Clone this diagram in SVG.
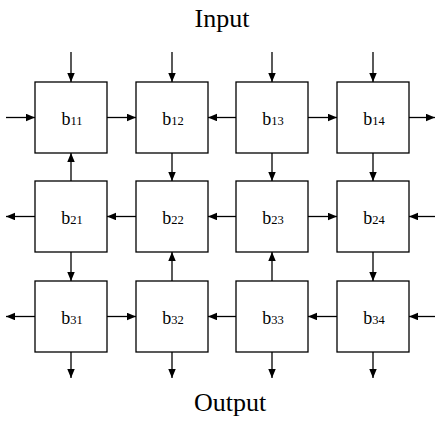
<svg xmlns="http://www.w3.org/2000/svg" width="435" height="423" viewBox="0 0 435 423">
<style>
.box{fill:#fff;stroke:#000;stroke-width:1.3}
.lbl{font-family:"Liberation Serif","Times New Roman",serif;font-size:18px;fill:#000;text-anchor:middle}
.sub{font-size:12.5px}
.title{font-family:"Liberation Serif","Times New Roman",serif;font-size:26px;fill:#000;text-anchor:middle}
.c line{stroke:#000;stroke-width:1.3;marker-end:url(#ah)}
</style>
<defs>
<marker id="ah" markerUnits="userSpaceOnUse" markerWidth="10" markerHeight="8" refX="9" refY="3.75" orient="auto">
<path d="M0,0 L9,3.75 L0,7.5 z" fill="#000"/>
</marker>
</defs>
<rect width="435" height="423" fill="#fff"/>
<text class="title" x="222" y="27">Input</text>
<text class="title" x="230" y="411">Output</text>
<g id="connectors" class="c">
<!-- top inputs -->
<line x1="71" y1="52" x2="71" y2="82"/>
<line x1="172" y1="52" x2="172" y2="82"/>
<line x1="272" y1="52" x2="272" y2="82"/>
<line x1="373" y1="52" x2="373" y2="82"/>
<!-- bottom outputs -->
<line x1="71" y1="352" x2="71" y2="378"/>
<line x1="172" y1="352" x2="172" y2="378"/>
<line x1="272" y1="352" x2="272" y2="378"/>
<line x1="373" y1="352" x2="373" y2="378"/>
<!-- row 1 -->
<line x1="6" y1="117.5" x2="35" y2="117.5"/>
<line x1="107" y1="117.5" x2="136" y2="117.5"/>
<line x1="236" y1="117.5" x2="208" y2="117.5"/>
<line x1="308" y1="117.5" x2="337" y2="117.5"/>
<line x1="409" y1="117.5" x2="435" y2="117.5"/>
<!-- row 2 -->
<line x1="35" y1="216.5" x2="6" y2="216.5"/>
<line x1="136" y1="216.5" x2="107" y2="216.5"/>
<line x1="236" y1="216.5" x2="208" y2="216.5"/>
<line x1="308" y1="216.5" x2="337" y2="216.5"/>
<line x1="435" y1="216.5" x2="409" y2="216.5"/>
<!-- row 3 -->
<line x1="35" y1="316.5" x2="6" y2="316.5"/>
<line x1="107" y1="316.5" x2="136" y2="316.5"/>
<line x1="236" y1="316.5" x2="208" y2="316.5"/>
<line x1="337" y1="316.5" x2="308" y2="316.5"/>
<line x1="435" y1="316.5" x2="409" y2="316.5"/>
<!-- verticals rows 1-2 -->
<line x1="71" y1="181" x2="71" y2="153"/>
<line x1="172" y1="153" x2="172" y2="181"/>
<line x1="272" y1="153" x2="272" y2="181"/>
<line x1="373" y1="153" x2="373" y2="181"/>
<!-- verticals rows 2-3 -->
<line x1="71" y1="252" x2="71" y2="281"/>
<line x1="172" y1="281" x2="172" y2="252"/>
<line x1="272" y1="281" x2="272" y2="252"/>
<line x1="373" y1="252" x2="373" y2="281"/>
</g>
<g id="b11"><rect class="box" x="35" y="82" width="72" height="71"/><text class="lbl" x="72" y="125">b<tspan class="sub">11</tspan></text></g>
<g id="b12"><rect class="box" x="136" y="82" width="72" height="71"/><text class="lbl" x="173" y="125">b<tspan class="sub">12</tspan></text></g>
<g id="b13"><rect class="box" x="236" y="82" width="72" height="71"/><text class="lbl" x="273" y="125">b<tspan class="sub">13</tspan></text></g>
<g id="b14"><rect class="box" x="337" y="82" width="72" height="71"/><text class="lbl" x="374" y="125">b<tspan class="sub">14</tspan></text></g>
<g id="b21"><rect class="box" x="35" y="181" width="72" height="71"/><text class="lbl" x="72" y="224">b<tspan class="sub">21</tspan></text></g>
<g id="b22"><rect class="box" x="136" y="181" width="72" height="71"/><text class="lbl" x="173" y="224">b<tspan class="sub">22</tspan></text></g>
<g id="b23"><rect class="box" x="236" y="181" width="72" height="71"/><text class="lbl" x="273" y="224">b<tspan class="sub">23</tspan></text></g>
<g id="b24"><rect class="box" x="337" y="181" width="72" height="71"/><text class="lbl" x="374" y="224">b<tspan class="sub">24</tspan></text></g>
<g id="b31"><rect class="box" x="35" y="281" width="72" height="71"/><text class="lbl" x="72" y="324">b<tspan class="sub">31</tspan></text></g>
<g id="b32"><rect class="box" x="136" y="281" width="72" height="71"/><text class="lbl" x="173" y="324">b<tspan class="sub">32</tspan></text></g>
<g id="b33"><rect class="box" x="236" y="281" width="72" height="71"/><text class="lbl" x="273" y="324">b<tspan class="sub">33</tspan></text></g>
<g id="b34"><rect class="box" x="337" y="281" width="72" height="71"/><text class="lbl" x="374" y="324">b<tspan class="sub">34</tspan></text></g>
</svg>
